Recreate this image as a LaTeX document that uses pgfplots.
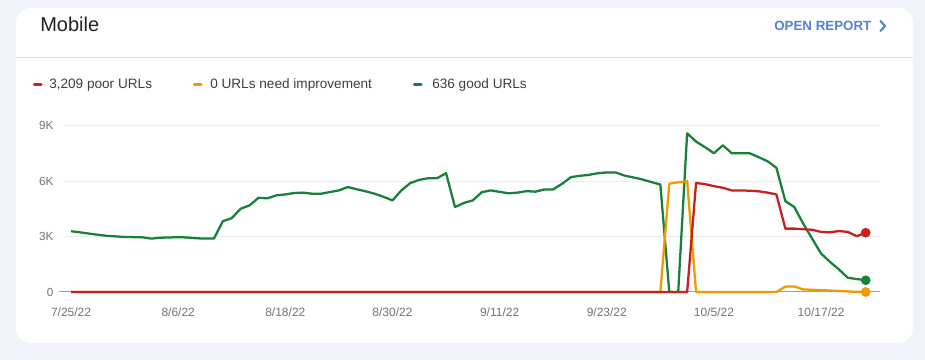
\documentclass[border=0pt]{standalone}
\usepackage{pgfplots}
\usepackage{pgfplotstable}
\pgfplotsset{compat=1.18}
\usepackage{fontspec}
\setmainfont{Liberation Sans}
\definecolor{bgc}{HTML}{F1F3FA}
\definecolor{sepc}{HTML}{E3E5EA}
\definecolor{poorc}{HTML}{C5221F}
\definecolor{nic}{HTML}{F29900}
\definecolor{goodc}{HTML}{188038}
\definecolor{bluec}{HTML}{5383D6}
\definecolor{titlec}{HTML}{202124}
\definecolor{legc}{HTML}{3C4043}
\definecolor{tickc}{HTML}{70757A}
\definecolor{gridc}{HTML}{EBEDEF}
\definecolor{basec}{HTML}{9AA0A6}

\pgfplotstableread{
day good ni poor
0 3290 0 0
1 3230 0 0
2 3160 0 0
3 3100 0 0
4 3040 0 0
5 3010 0 0
6 2980 0 0
7 2970 0 0
8 2960 0 0
9 2890 0 0
10 2940 0 0
11 2950 0 0
12 2970 0 0
13 2950 0 0
14 2910 0 0
15 2890 0 0
16 2890 0 0
17 3830 0 0
18 4000 0 0
19 4510 0 0
20 4690 0 0
21 5100 0 0
22 5070 0 0
23 5230 0 0
24 5280 0 0
25 5360 0 0
26 5380 0 0
27 5320 0 0
28 5320 0 0
29 5410 0 0
30 5500 0 0
31 5680 0 0
32 5560 0 0
33 5450 0 0
34 5320 0 0
35 5150 0 0
36 4960 0 0
37 5500 0 0
38 5900 0 0
39 6070 0 0
40 6160 0 0
41 6160 0 0
42 6430 0 0
43 4600 0 0
44 4820 0 0
45 4960 0 0
46 5400 0 0
47 5500 0 0
48 5420 0 0
49 5340 0 0
50 5380 0 0
51 5460 0 0
52 5430 0 0
53 5550 0 0
54 5550 0 0
55 5860 0 0
56 6220 0 0
57 6290 0 0
58 6340 0 0
59 6430 0 0
60 6470 0 0
61 6470 0 0
62 6300 0 0
63 6200 0 0
64 6090 0 0
65 5950 0 0
66 5820 0 0
67 0 5860 0
68 0 5940 0
69 8590 6000 0
70 8140 0 5900
71 7840 0 5840
72 7510 0 5730
73 7940 0 5640
74 7510 0 5500
75 7510 0 5500
76 7510 0 5480
77 7300 0 5450
78 7080 0 5380
79 6720 0 5280
80 4920 290 3430
81 4600 300 3430
82 3700 140 3400
83 2890 120 3370
84 2080 100 3250
85 1630 80 3230
86 1220 60 3300
87 770 30 3250
88 700 10 3020
89 636 0 3209
}\datatable

\begin{document}
\begin{tikzpicture}[x=0.75pt,y=0.75pt]
% background and card
\fill[bgc] (0,0) rectangle (925,360);
\fill[white, rounded corners=11pt] (16,17) rectangle (913,352);
\draw[sepc, line width=0.75pt] (16,302) -- (913,302);
% header
\node[anchor=base west, inner sep=0pt, font=\fontsize{15}{18}\selectfont, text=titlec] at (40,328.3) {Mobile};
\node[anchor=base west, inner sep=0pt, font=\fontsize{10}{12}\selectfont\bfseries, text=bluec] at (774,329.3) {OPEN REPORT};
\draw[bluec, line width=1.6pt, line cap=round, line join=round] (880.5,339) -- (885,334) -- (880.5,329);
% legend
\draw[poorc, line width=2.6pt, line cap=round] (34.5,275.7) -- (41,275.7);
\node[anchor=base west, inner sep=0pt, font=\fontsize{10.2}{12}\selectfont, text=legc] at (49,271.7) {3,209 poor URLs};
\draw[nic, line width=2.6pt, line cap=round] (194.5,275.7) -- (201,275.7);
\node[anchor=base west, inner sep=0pt, font=\fontsize{10.2}{12}\selectfont, text=legc] at (210,271.7) {0 URLs need improvement};
\draw[goodc, line width=2.6pt, line cap=round] (414.5,275.7) -- (421,275.7);
\node[anchor=base west, inner sep=0pt, font=\fontsize{10.2}{12}\selectfont, text=legc] at (432,271.7) {636 good URLs};

\begin{axis}[
  at={(47.25pt,51pt)}, anchor=south west,
  scale only axis, width=612.75pt, height=124.7pt,
  xmin=-0.9, xmax=90.6, ymin=0, ymax=9000,
  clip=false,
  axis line style={draw=none},
  major tick length=0pt,
  ymajorgrids, grid style={gridc, line width=0.75pt},
  xtick={0,12,24,36,48,60,72,84},
  xticklabels={7/25/22,8/6/22,8/18/22,8/30/22,9/11/22,9/23/22,10/5/22,10/17/22},
  ytick={0,3000,6000,9000},
  yticklabels={0,3K,6K,9K},
  /pgf/number format/assume math mode=true,
  xticklabel style={font=\fontsize{9}{11}\selectfont, text=tickc, inner sep=0pt, anchor=north, yshift=-11.5pt},
  yticklabel style={font=\fontsize{8.8}{11}\selectfont, text=tickc, inner sep=0pt, anchor=east, xshift=-7pt},
]
\draw[basec, line width=0.75pt] (axis cs:-1.35,0) -- (axis cs:90.6,0);
\addplot[goodc, line width=1.7pt, line join=round, mark=none] table[x=day, y=good] {\datatable};
\addplot[nic, line width=1.7pt, line join=round, mark=none] table[x=day, y=ni] {\datatable};
\addplot[poorc, line width=1.7pt, line join=round, mark=none] table[x=day, y=poor] {\datatable};
\addplot[only marks, mark=*, mark size=3.4pt, color=goodc] coordinates {(89,636)};
\addplot[only marks, mark=*, mark size=3.4pt, color=nic] coordinates {(89,0)};
\addplot[only marks, mark=*, mark size=3.4pt, color=poorc!85!red] coordinates {(89,3209)};
\end{axis}
\pgfresetboundingbox
\useasboundingbox (0,0) rectangle (925,360);
\end{tikzpicture}
\end{document}
